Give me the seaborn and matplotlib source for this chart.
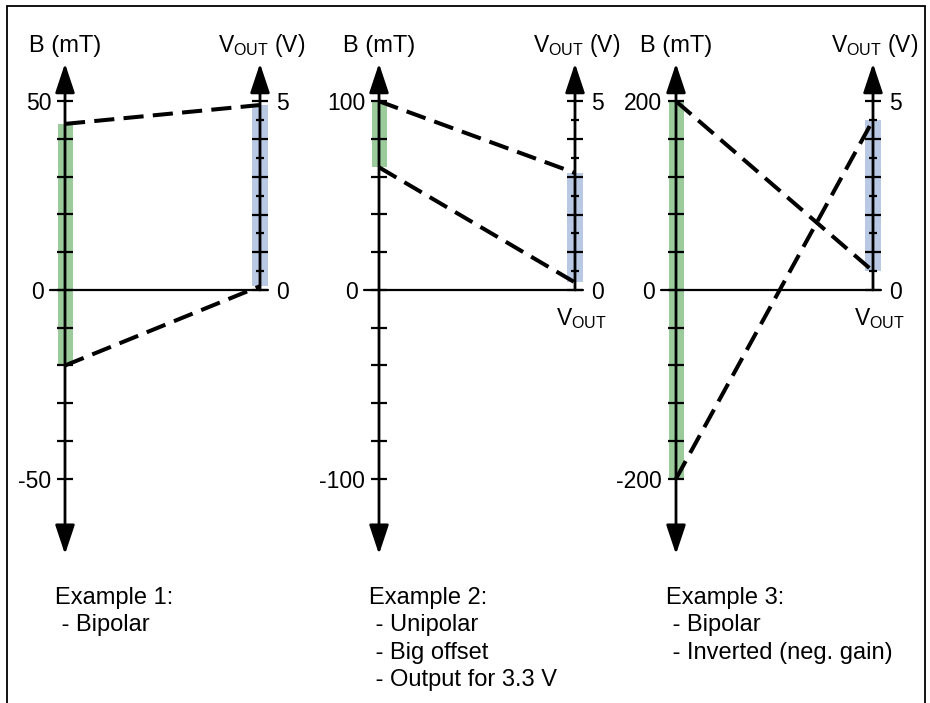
import numpy as np
import matplotlib
matplotlib.use("Agg")
import matplotlib.pyplot as plt
import seaborn as sns
from matplotlib.ticker import FixedLocator, FixedFormatter
from matplotlib.patches import Rectangle

# ---------------- data ----------------
b_full_scale = [50, 100, 200]          # mT at the top labelled tick of each B axis
b_span_low = [-20, 65, -200]           # lower end of used B range (green bar)
b_span_high = [44, 100, 200]           # upper end of used B range (green bar)
v_at_low = [0.1, 0.2, 4.5]             # VOUT at b_span_low
v_at_high = [4.9, 3.1, 0.5]            # VOUT at b_span_high
v_full_scale = 5
b_tick_labels = [["-50", "0", "50"], ["-100", "0", "100"], ["-200", "0", "200"]]
v_tick_labels = ["0", "5"]
notes = [
    "Example 1:\n - Bipolar",
    "Example 2:\n - Unipolar\n - Big offset\n - Output for 3.3 V",
    "Example 3:\n - Bipolar\n - Inverted (neg. gain)",
]
vout_below = [False, True, True]
b_axis_title = "B (mT)"
v_axis_title = r"$\mathregular{V_{OUT}}$ (V)"
v_below_title = r"$\mathregular{V_{OUT}}$"

# ---------------- style ----------------
sns.set_theme(style="white")
plt.rcParams["font.family"] = ["Liberation Sans", "DejaVu Sans"]
plt.rcParams["mathtext.fontset"] = "custom"
plt.rcParams["mathtext.rm"] = "Liberation Sans"
plt.rcParams["mathtext.it"] = "Liberation Sans:italic"
plt.rcParams["mathtext.bf"] = "Liberation Sans:bold"
plt.rcParams["axes.axisbelow"] = False
for k in ("text.color", "axes.labelcolor", "xtick.color", "ytick.color"):
    plt.rcParams[k] = "black"

GREEN = "#9bca9b"
BLUE = "#b9c9e4"

W, H = 930, 703
ZERO_Y = 290          # pixel row of the zero line
PX_STEP = 37.75       # pixels per tick step
LEFT_PX = [65, 379, 676]
RIGHT_PX = [260, 575, 873]
AX_TOP_PX, AX_BOT_PX = 55, 565
N_STEPS = 5

fig = plt.figure(figsize=(W / 100, H / 100), dpi=100)
fig.patch.set_facecolor("white")

steps_top = (ZERO_Y - AX_TOP_PX) / PX_STEP
steps_bot = (ZERO_Y - AX_BOT_PX) / PX_STEP

for i in range(3):
    L, R = LEFT_PX[i], RIGHT_PX[i]
    wpx = R - L
    s = b_full_scale[i] / N_STEPS
    vs = v_full_scale / N_STEPS
    ax = fig.add_axes([L / W, 1 - AX_BOT_PX / H, wpx / W, (AX_BOT_PX - AX_TOP_PX) / H])
    ax.set_facecolor("none")
    ax2 = ax.twinx()
    ax2.set_facecolor("none")
    for a in (ax, ax2):
        a.set_axisbelow(False)
        for sp in a.spines.values():
            sp.set_visible(False)
        a.grid(False)
    ax.set_xlim(0, 1)
    ax.set_ylim(steps_bot * s, steps_top * s)
    ax2.set_ylim(steps_bot * vs, steps_top * vs)
    ax.set_xticks([])

    # used ranges
    ax.bar(0, b_span_high[i] - b_span_low[i], bottom=b_span_low[i], width=15 / wpx,
           color=GREEN, zorder=1, clip_on=False, linewidth=0)
    vlo, vhi = min(v_at_low[i], v_at_high[i]), max(v_at_low[i], v_at_high[i])
    ax2.bar(1, vhi - vlo, bottom=vlo, width=16 / wpx, color=BLUE, zorder=1,
            clip_on=False, linewidth=0)

    # axis lines with arrow heads
    ax.annotate("", xy=(0, 6 * s), xytext=(0, -7 * s), annotation_clip=False,
                arrowprops=dict(arrowstyle="<|-|>,head_length=1.8,head_width=0.6",
                                mutation_scale=10, lw=2, color="black",
                                shrinkA=0, shrinkB=0))
    ax2.annotate("", xy=(1, 6 * vs), xytext=(1, 0), annotation_clip=False,
                 arrowprops=dict(arrowstyle="-|>,head_length=1.8,head_width=0.6",
                                 mutation_scale=10, lw=2, color="black",
                                 shrinkA=0, shrinkB=0))
    ax.axhline(0, xmin=-15 / wpx, xmax=1 + 8 / wpx, color="black", lw=1.6,
               clip_on=False, zorder=2)

    # left ticks
    bt = np.arange(-N_STEPS, N_STEPS + 1) * s
    blabels = [""] * len(bt)
    blabels[0], blabels[N_STEPS], blabels[-1] = b_tick_labels[i]
    ax.yaxis.set_major_locator(FixedLocator(bt))
    ax.yaxis.set_major_formatter(FixedFormatter(blabels))
    ax.tick_params(axis="y", which="major", left=True, right=False, labelleft=True,
                   labelright=False, direction="inout", length=11, width=1.6,
                   color="black", labelsize=16.5, labelcolor="black", pad=4.5)

    # right ticks
    vt = np.arange(0, N_STEPS + 1) * vs
    vlabels = [""] * len(vt)
    vlabels[0], vlabels[-1] = v_tick_labels
    ax2.yaxis.set_major_locator(FixedLocator(vt))
    ax2.yaxis.set_major_formatter(FixedFormatter(vlabels))
    ax2.yaxis.set_minor_locator(FixedLocator(vt[:-1] + vs / 2))
    ax2.tick_params(axis="y", which="major", right=True, left=False, labelright=True,
                    labelleft=False, direction="inout", length=11, width=1.6,
                    color="black", labelsize=16.5, labelcolor="black", pad=6)
    ax2.tick_params(axis="y", which="minor", right=True, left=False,
                    direction="inout", length=5.5, width=1.6, color="black")

    # transfer lines (dashed), drawn in volts on the right scale
    for b, v in ((b_span_low[i], v_at_low[i]), (b_span_high[i], v_at_high[i])):
        sns.lineplot(x=[0, 1], y=[b / s * vs, v], ax=ax2, color="black", lw=2.9,
                     linestyle=(0, (5, 2.3)), estimator=None, sort=False,
                     clip_on=False, zorder=4)
    ax2.set_xlabel("")
    ax2.set_ylabel("")
    ax.set_xlim(0, 1)
    ax.set_ylim(steps_bot * s, steps_top * s)
    ax2.set_ylim(steps_bot * vs, steps_top * vs)

    # titles
    ax.annotate(b_axis_title, xy=(0, 0), xytext=(0, ZERO_Y - 52), textcoords="offset pixels",
                ha="center", va="baseline", fontsize=17, annotation_clip=False)
    ax2.annotate(v_axis_title, xy=(1, 0), xytext=(2, ZERO_Y - 52), textcoords="offset pixels",
                 ha="center", va="baseline", fontsize=16.5, annotation_clip=False)
    if vout_below[i]:
        ax2.annotate(v_below_title, xy=(1, 0), xytext=(6, -35), textcoords="offset pixels",
                     ha="center", va="baseline", fontsize=16.5, annotation_clip=False)

    # notes
    ax.annotate(notes[i], xy=(0, 0), xytext=(-10, -(587 - ZERO_Y)), textcoords="offset pixels",
                ha="left", va="top", fontsize=17, linespacing=1.31, annotation_clip=False)

    # zero label sits left of the extended zero line
    zt = ax.yaxis.get_major_ticks()
    zt[N_STEPS].set_pad(10)

# outer frame
fig.add_artist(Rectangle((7 / W, -0.05), (925 - 7) / W, 1.05 - 6 / H,
                         transform=fig.transFigure, fill=False, lw=1.3,
                         edgecolor="black"))

fig.savefig("out.png", dpi=100)
